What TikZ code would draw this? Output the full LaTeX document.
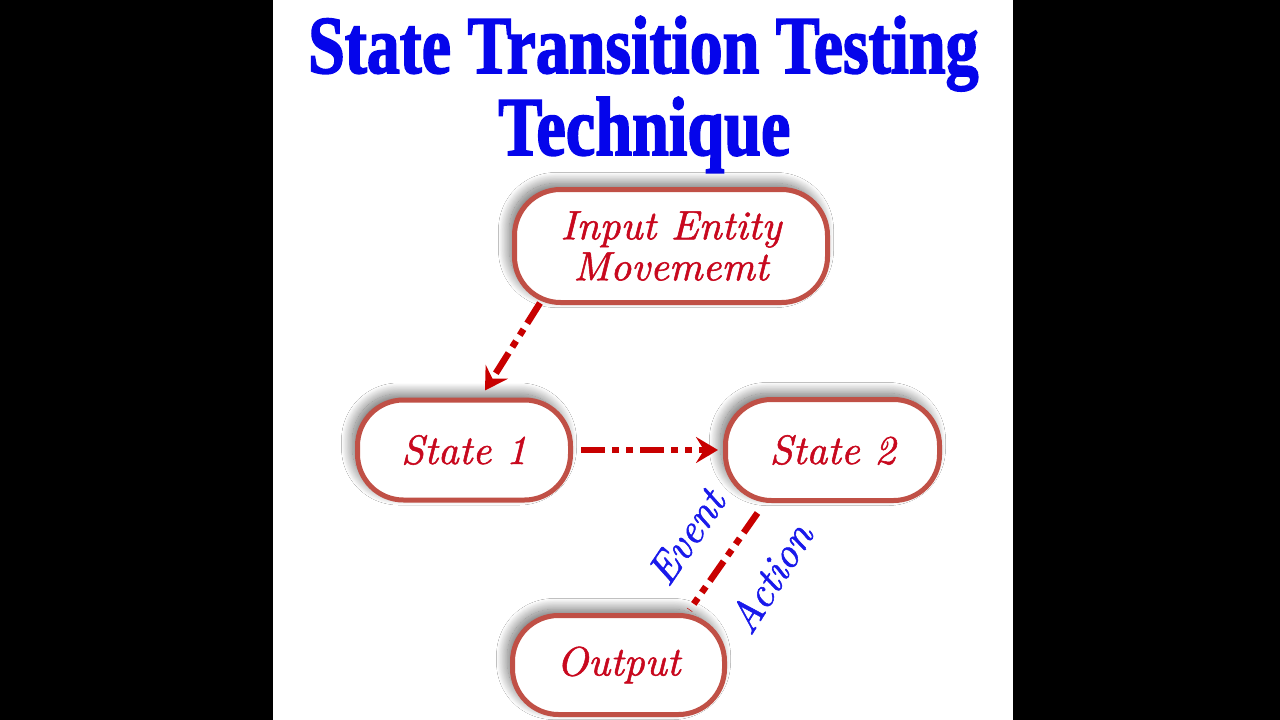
\documentclass[tikz,border=0pt]{standalone}
\usepackage{fontspec}
\usetikzlibrary{arrows.meta,shadows.blur}
\newfontfamily\titlefont{Liberation Serif Bold}[FakeBold=2.2]
\newfontfamily\nodefont{lmroman10-italic}[Extension=.otf, FakeBold=1.3]
\definecolor{bordercol}{RGB}{192,80,70}
\definecolor{textred}{RGB}{200,8,30}
\definecolor{arrowred}{RGB}{200,0,0}
\definecolor{titleblue}{RGB}{5,5,235}
\definecolor{labelblue}{RGB}{25,25,235}
\tikzset{
  statebox/.style={draw=bordercol, line width=5pt, fill=white, rounded corners=46pt,
    align=center, text=textred, font=\fontsize{41}{41}\nodefont,
    blur shadow={shadow xshift=-5pt, shadow yshift=6pt, shadow blur radius=11pt,
      shadow blur steps=40, shadow opacity=60}},
  conn/.style={draw=arrowred, line width=6.5pt,
    dash pattern=on 24pt off 7pt on 7pt off 7pt on 7pt off 7pt},
  tip/.style={-{Stealth[length=22pt,width=26pt,inset=8pt]}},
  lbl/.style={text=labelblue, font=\fontsize{42}{42}\nodefont, inner sep=0pt},
  ttl/.style={text=titleblue, inner sep=0pt, anchor=base west}
}
\begin{document}
\begin{tikzpicture}[x=1pt,y=-1pt]
\useasboundingbox (0,0) rectangle (1280,720);
\fill[black] (0,0) rectangle (1280,720);
\fill[white] (273,0) rectangle (1013,720);
% title
\node[ttl] (t1) at (308,73) {\resizebox{670pt}{57pt}{\titlefont State Transition Testing}};
\node[ttl] (t2) at (498,155) {\resizebox{292pt}{58pt}{\titlefont Technique}};
% states
\node[statebox, minimum width=313pt, minimum height=113pt] (in) at (671,246) {Input Entity\\Movememt};
\node[statebox, minimum width=213pt, minimum height=100pt] (s1) at (464,450) {State 1};
\node[statebox, minimum width=214pt, minimum height=101pt] (s2) at (832.5,450) {State 2};
\node[statebox, minimum width=212pt, minimum height=99pt] (out) at (618.5,665) {Output};
% connectors
\draw[conn, tip] ([xshift=-131pt,yshift=2pt]in.south) -- ([xshift=21pt,yshift=7pt]s1.north);
\draw[conn, tip, shorten <=8pt, shorten >=5pt] (s1.east) -- (s2.west);
\draw[conn] ([xshift=-75pt,yshift=-10pt]s2.south) -- ([xshift=71pt,yshift=3pt]out.north);
% labels
\node[lbl, rotate=56] (ev) at (686,537) {Event};
\node[lbl, rotate=58] (ac) at (770,578) {Action};
\end{tikzpicture}
\end{document}
